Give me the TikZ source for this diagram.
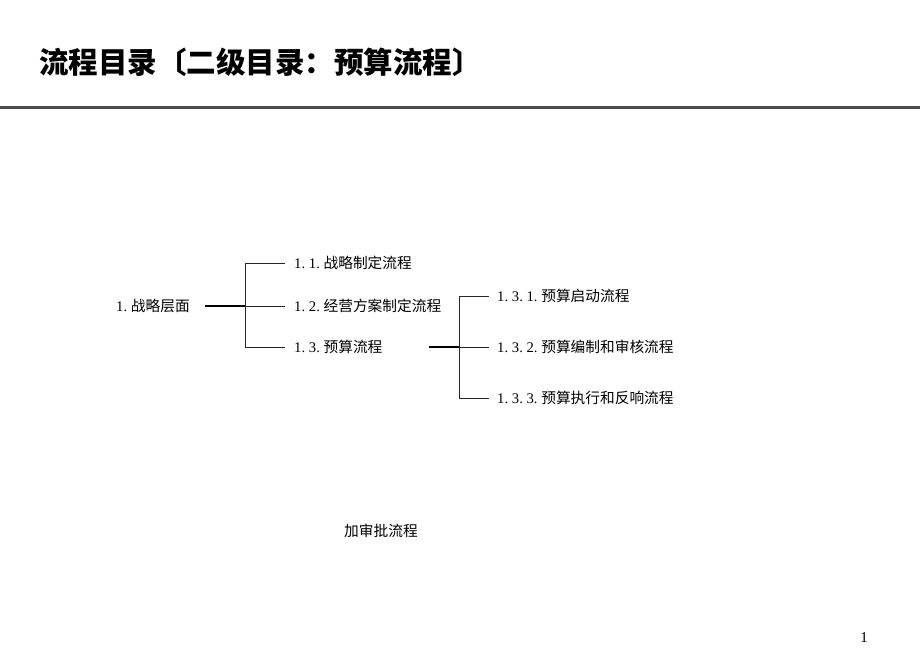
\documentclass[tikz,border=0pt]{standalone}
\usepackage{fontspec}
\setmainfont{Noto Sans CJK SC}
\newfontfamily\pagenumfont{Liberation Serif}
\newfontfamily\numfont{Liberation Serif}
\newcommand{\dg}[1]{\makebox[7.35pt][c]{\numfont #1}}
\newcommand{\dt}{\makebox[7.35pt][l]{\numfont .}}
\tikzset{
  lbl/.style={anchor=west, inner sep=0pt, font=\fontsize{14.7}{16}\selectfont},
  conn/.style={draw=black!85, line width=0.9pt},
  trunk/.style={draw=black, line width=2pt},
}
\begin{document}
\begin{tikzpicture}[x=1pt,y=-1pt]
\useasboundingbox[fill=white] (0,0) rectangle (920,663);
% title
\node[anchor=west, inner sep=0pt, font=\fontsize{29.5}{34}\selectfont\bfseries] (title) at (39,62) {流程目录〔二级目录：预算流程〕};
\coordinate (ruleL) at (0,108);
\coordinate (ruleR) at (920,108);
\draw[draw=black!70, line width=3pt] (ruleL) -- (ruleR);
% level 1
\node[lbl] (n1) at (116,306) {\dg{1}\dt 战略层面};
\node[lbl] (n11) at (294,263) {\dg{1}\dt\dg{1}\dt 战略制定流程};
\node[lbl] (n12) at (294,306) {\dg{1}\dt\dg{2}\dt 经营方案制定流程};
\node[lbl] (n13) at (294,347) {\dg{1}\dt\dg{3}\dt 预算流程};
\coordinate (s1) at (205,306);
\coordinate (j1) at (245,306);
\draw[trunk] (s1) -- (j1);
\draw[conn] (j1) |- ([xshift=-9pt]n11.west);
\draw[conn] (j1) -- ([xshift=-9pt]n12.west);
\draw[conn] (j1) |- ([xshift=-9pt]n13.west);
% level 2
\node[lbl] (n131) at (497,296) {\dg{1}\dt\dg{3}\dt\dg{1}\dt 预算启动流程};
\node[lbl] (n132) at (497,347) {\dg{1}\dt\dg{3}\dt\dg{2}\dt 预算编制和审核流程};
\node[lbl] (n133) at (497,398) {\dg{1}\dt\dg{3}\dt\dg{3}\dt 预算执行和反响流程};
\coordinate (s2) at (429,347);
\coordinate (j2) at (459,347);
\draw[trunk] (s2) -- (j2);
\draw[conn] (j2) |- ([xshift=-8pt]n131.west);
\draw[conn] (j2) -- ([xshift=-8pt]n132.west);
\draw[conn] (j2) |- ([xshift=-8pt]n133.west);
% extra text
\node[lbl] (extra) at (344,531) {加审批流程};
\node[anchor=center, inner sep=0pt, font=\pagenumfont\fontsize{15}{17}\selectfont] (pg) at (864,638) {1};
\end{tikzpicture}
\end{document}
